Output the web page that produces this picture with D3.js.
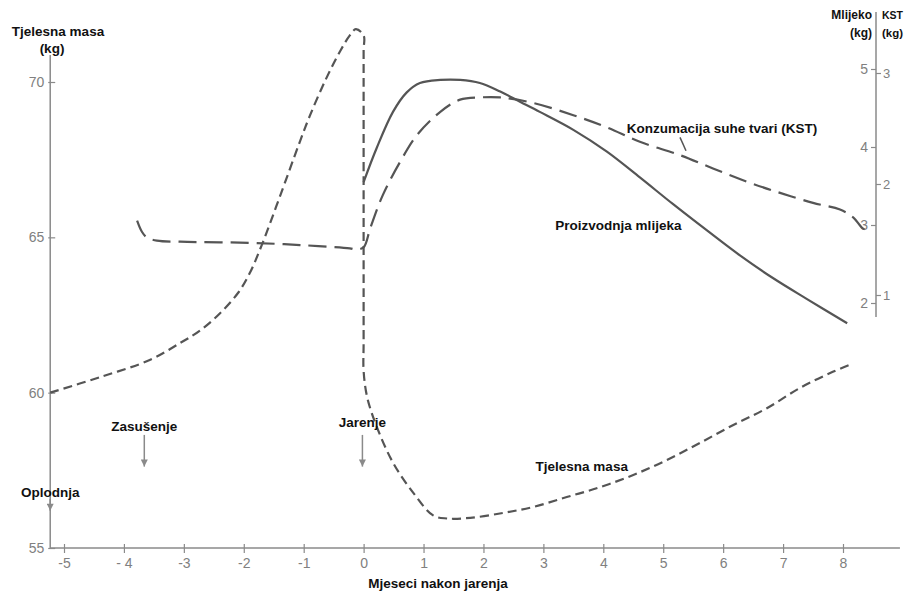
<!DOCTYPE html>
<html>
<head>
<meta charset="utf-8">
<script src="https://cdn.jsdelivr.net/npm/d3@7/dist/d3.min.js"></script>
<style>
  body { margin: 0; background: #fff; }
  svg { display: block; }
  .lbl { font-family: "Liberation Sans", Arial, sans-serif; font-weight: bold; font-size: 13.5px; fill: #111; }
  .tick text { font-family: "Liberation Sans", Arial, sans-serif; fill: #808080; }
</style>
</head>
<body>
<svg id="chart" width="904" height="591"></svg>
<script>
// ---------------- data ----------------
const monthTicks = [-5, -4, -3, -2, -1, 0, 1, 2, 3, 4, 5, 6, 7, 8];
const monthTickLabels = ["-5", "- 4", "-3", "-2", "-1", "0", "1", "2", "3", "4", "5", "6", "7", "8"];
const massTicks = [55, 60, 65, 70];
const milkTicks = [2, 3, 4, 5];
const kstTicks = [1, 2, 3];

// body mass (kg), left axis
const massMonths = [-5.23, -4.40, -3.57, -3.06, -2.73, -2.40, -2.10, -1.90, -1.70, -1.40, -1.06, -0.90, -0.64, -0.39, -0.23, -0.13, 0.0,
                    0.0, 0.0, 0.0, 0.0, 0.06, 0.22, 0.49, 0.82, 1.16, 1.39, 1.78, 2.33, 2.83, 3.39, 3.95, 4.50, 5.06, 5.61, 6.17, 6.73, 7.28, 7.83, 8.12];
const massValues = [60.0, 60.5, 61.05, 61.6, 62.0, 62.55, 63.2, 63.85, 64.75, 66.3, 68.1, 68.9, 70.05, 71.0, 71.5, 71.7, 71.5,
                    71.0, 66.0, 61.6, 60.7, 59.85, 58.9, 57.75, 56.8, 56.05, 55.95, 55.97, 56.13, 56.32, 56.64, 56.96, 57.35, 57.83, 58.38, 58.96, 59.5, 60.15, 60.67, 60.9];

// milk production (kg), right axis "Mlijeko"
const milkMonths = [0.0, 0.22, 0.49, 0.72, 0.94, 1.28, 1.61, 1.94, 2.28, 2.61, 2.94, 3.50, 4.06, 4.61, 5.16, 5.73, 6.28, 6.83, 7.40, 8.07];
const milkValues = [3.55, 3.99, 4.45, 4.70, 4.82, 4.86, 4.86, 4.82, 4.71, 4.58, 4.45, 4.22, 3.94, 3.61, 3.27, 2.93, 2.61, 2.32, 2.05, 1.74];

// dry matter intake KST (kg), right axis "KST"
const kstMonths = [-3.78, -3.70, -3.62, -3.45, -3.06, -1.90, -1.06, -0.23, -0.13, 0.0,
                   0.11, 0.32, 0.61, 0.89, 1.28, 1.61, 1.94, 2.28, 2.83, 3.50, 4.06, 4.61, 5.28, 5.83, 6.40, 6.95, 7.50, 7.95, 8.17, 8.33, 8.45];
const kstValues = [1.67, 1.57, 1.52, 1.49, 1.48, 1.47, 1.45, 1.42, 1.41, 1.43,
                   1.60, 1.90, 2.20, 2.44, 2.65, 2.76, 2.78, 2.78, 2.73, 2.62, 2.51, 2.38, 2.26, 2.14, 2.02, 1.92, 1.83, 1.77, 1.70, 1.60, 1.58];

// axis extents (data units)
const monthExtent = [-5.23, 8.95];
const massExtent = [55, 70.87];
const milkExtent = [1.82, 5.73];

// annotations
const events = [
  { name: "Oplodnja", month: -5.23, labelMass: 56.64, arrowFrom: 56.58, arrowTo: 56.2 },
  { name: "Zasušenje", month: -3.66, labelMass: 58.77, arrowFrom: 58.64, arrowTo: 57.62 },
  { name: "Jarenje", month: -0.02, labelMass: 58.9, arrowFrom: 58.64, arrowTo: 57.62 }
];

// ---------------- chart ----------------
const svg = d3.select("#chart");
const grey = "#8a8a8a";
const lineCol = "#555";

const x = d3.scaleLinear().domain([-5, 8]).range([64, 843]);
const yL = d3.scaleLinear().domain([55, 70]).range([548, 82]);
const yM = d3.scaleLinear().domain([2, 5]).range([303, 69]);
const yK = d3.scaleLinear().domain([1, 3]).range([295, 73]);
const rightX = 876;

svg.append("defs").append("marker")
  .attr("id", "arr").attr("viewBox", "0 0 10 10").attr("refX", 10).attr("refY", 5)
  .attr("markerWidth", 10).attr("markerHeight", 7).attr("markerUnits", "userSpaceOnUse")
  .attr("orient", "auto")
  .append("path").attr("d", "M0,0 L10,5 L0,10 Z").attr("fill", grey);

// left axis line
svg.append("line")
  .attr("x1", x(monthExtent[0])).attr("x2", x(monthExtent[0]))
  .attr("y1", yL(massExtent[1])).attr("y2", yL(massExtent[0]))
  .attr("stroke", grey).attr("stroke-width", 1.5);

// x axis line
svg.append("line")
  .attr("x1", x(monthExtent[0])).attr("x2", x(monthExtent[1]))
  .attr("y1", yL(55)).attr("y2", yL(55))
  .attr("stroke", grey).attr("stroke-width", 1.5);

// x axis ticks
const xAxis = svg.append("g").attr("transform", `translate(0,${yL(55)})`)
  .call(d3.axisBottom(x).tickValues(monthTicks).tickSize(0).tickPadding(10)
    .tickFormat((d, i) => monthTickLabels[i]));
xAxis.select(".domain").remove();
xAxis.selectAll(".tick text").attr("font-size", 14);
xAxis.selectAll(".tick").append("line").attr("y1", -4).attr("y2", 5).attr("stroke", grey).attr("stroke-width", 1.2);

// left y axis ticks
const yAxisL = svg.append("g").attr("transform", `translate(${x(monthExtent[0])},0)`)
  .call(d3.axisLeft(yL).tickValues(massTicks).tickSize(0).tickPadding(6));
yAxisL.select(".domain").remove();
yAxisL.selectAll(".tick text").attr("font-size", 14);
yAxisL.selectAll(".tick").append("line").attr("x1", -2).attr("x2", 5).attr("stroke", grey).attr("stroke-width", 1.2);

// right axis line
svg.append("line")
  .attr("x1", rightX).attr("x2", rightX)
  .attr("y1", yM(milkExtent[1])).attr("y2", yM(milkExtent[0]))
  .attr("stroke", grey).attr("stroke-width", 1.5);

const yAxisM = svg.append("g").attr("transform", `translate(${rightX},0)`)
  .call(d3.axisLeft(yM).tickValues(milkTicks).tickSize(5).tickPadding(3).tickFormat(d3.format("d")));
yAxisM.select(".domain").remove();
yAxisM.selectAll(".tick line").attr("stroke", grey).attr("stroke-width", 1.2);
yAxisM.selectAll(".tick text").attr("font-size", 14);

const yAxisK = svg.append("g").attr("transform", `translate(${rightX},0)`)
  .call(d3.axisRight(yK).tickValues(kstTicks).tickSize(5).tickPadding(2).tickFormat(d3.format("d")));
yAxisK.select(".domain").remove();
yAxisK.selectAll(".tick line").attr("stroke", grey).attr("stroke-width", 1.2);
yAxisK.selectAll(".tick text").attr("font-size", 13);

// curves
const curve = d3.curveCatmullRom.alpha(0.5);
const massLine = d3.line().x((d, i) => x(massMonths[i])).y((d, i) => yL(massValues[i])).curve(curve);
const milkLine = d3.line().x((d, i) => x(milkMonths[i])).y((d, i) => yM(milkValues[i])).curve(curve);
const kstLine = d3.line().x((d, i) => x(kstMonths[i])).y((d, i) => yK(kstValues[i])).curve(curve);

svg.append("path").attr("d", kstLine(kstValues))
  .attr("fill", "none").attr("stroke", lineCol).attr("stroke-width", 2.2).attr("stroke-dasharray", "18,8");
svg.append("path").attr("d", milkLine(milkValues))
  .attr("fill", "none").attr("stroke", lineCol).attr("stroke-width", 2.2);
svg.append("path").attr("d", massLine(massValues))
  .attr("fill", "none").attr("stroke", lineCol).attr("stroke-width", 2.2).attr("stroke-dasharray", "9,5");

// axis titles
svg.append("text").attr("class", "lbl").attr("x", 58).attr("y", 36).attr("text-anchor", "middle").text("Tjelesna masa");
svg.append("text").attr("class", "lbl").attr("x", 52).attr("y", 53).attr("text-anchor", "middle").text("(kg)");
svg.append("text").attr("class", "lbl").attr("x", 872).attr("y", 19).attr("text-anchor", "end")
  .style("font-size", "12px").text("Mlijeko");
svg.append("text").attr("class", "lbl").attr("x", 872).attr("y", 37).attr("text-anchor", "end")
  .style("font-size", "12px").text("(kg)");
svg.append("text").attr("class", "lbl").attr("x", 882).attr("y", 19)
  .style("font-size", "11px").attr("textLength", 21).attr("lengthAdjust", "spacingAndGlyphs").text("KST");
svg.append("text").attr("class", "lbl").attr("x", 882).attr("y", 37)
  .style("font-size", "11px").attr("textLength", 21).attr("lengthAdjust", "spacingAndGlyphs").text("(kg)");
svg.append("text").attr("class", "lbl").attr("x", 438).attr("y", 588).attr("text-anchor", "middle").text("Mjeseci nakon jarenja");

// series labels
svg.append("text").attr("class", "lbl").attr("x", x(4.39)).attr("y", yK(2.46)).text("Konzumacija suhe tvari (KST)");
svg.append("line").attr("x1", x(5.28)).attr("y1", yK(2.42)).attr("x2", x(5.38)).attr("y2", yK(2.30))
  .attr("stroke", lineCol).attr("stroke-width", 1.5);
svg.append("text").attr("class", "lbl").attr("x", x(3.2)).attr("y", yM(2.93)).text("Proizvodnja mlijeka");
svg.append("text").attr("class", "lbl").attr("x", x(2.87)).attr("y", yL(57.48)).text("Tjelesna masa");

// events
events.forEach(e => {
  svg.append("text").attr("class", "lbl").attr("x", x(e.month)).attr("y", yL(e.labelMass))
    .attr("text-anchor", "middle").text(e.name);
  svg.append("line").attr("x1", x(e.month)).attr("x2", x(e.month))
    .attr("y1", yL(e.arrowFrom)).attr("y2", yL(e.arrowTo))
    .attr("stroke", grey).attr("stroke-width", 1.5).attr("marker-end", "url(#arr)");
});
</script>
</body>
</html>
